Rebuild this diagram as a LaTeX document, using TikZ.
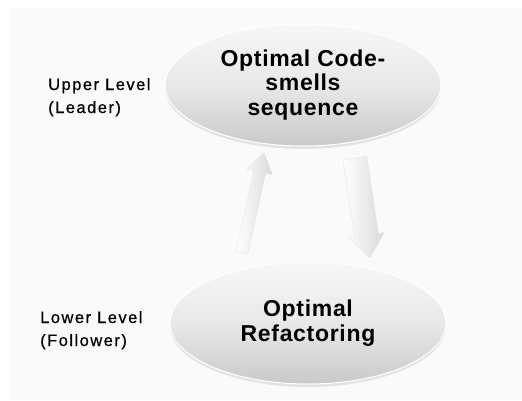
\documentclass[tikz,border=0pt]{standalone}
\usepackage{fontspec}
\setmainfont{Liberation Sans}
\usetikzlibrary{shadows,shapes.geometric}
\begin{document}
\begin{tikzpicture}[x=1pt,y=1pt,
  oval/.style={ellipse, draw=white, line width=1pt, minimum width=276pt, minimum height=122pt,
    inner sep=0pt, top color=gray!6, bottom color=gray!42, middle color=gray!18,
    drop shadow={opacity=0.18, shadow xshift=0pt, shadow yshift=-3pt},
    font=\fontsize{23}{24.5}\selectfont\bfseries\addfontfeature{LetterSpace=3}, align=center},
  lbl/.style={anchor=base west, inner sep=0pt,
    font=\fontsize{16.5}{20}\selectfont\addfontfeature{LetterSpace=9,FakeBold=0.6}},
  blockarrow/.style={draw=gray!20, line width=0.4pt, left color=white, right color=gray!30}
]
\useasboundingbox (0,0) rectangle (522,400);
\fill[white] (0,0) rectangle (522,400);
\fill[gray!4] (10,0) rectangle (522,392);

\node[oval] (upper) at (303,315) {Optimal Code-\\smells\\sequence};
\node[oval] (lower) at (308,77) {Optimal\\Refactoring};

\node[lbl] (ul1) at (48,310) {Upper Level};
\node[lbl] (ul2) at (48,287) {(Leader)};
\node[lbl] (ll1) at (40,77) {Lower Level};
\node[lbl] (ll2) at (40,54) {(Follower)};

% up arrow (from follower to leader)
\coordinate (upbase) at (242,147);
\begin{scope}[shift={(upbase)}, rotate=77.7]
  \path[blockarrow] (0,-6) -- (83,-6) -- (83,-13) -- (103,0) -- (83,13) -- (83,6) -- (0,6) -- cycle;
\end{scope}
% down arrow (from leader to follower)
\coordinate (dnbase) at (355,242);
\begin{scope}[shift={(dnbase)}, rotate=-81.5]
  \path[blockarrow] (0,-12) -- (78,-12) -- (78,-18) -- (101,0) -- (78,18) -- (78,12) -- (0,12) -- cycle;
\end{scope}
\end{tikzpicture}
\end{document}
